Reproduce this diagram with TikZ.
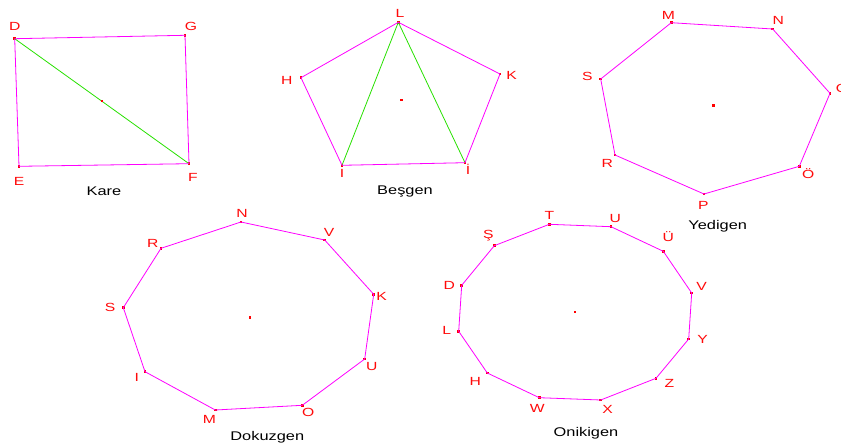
\documentclass[tikz,border=0pt]{standalone}
\usepackage{fontspec}
\setmainfont{Liberation Sans}
\definecolor{mag}{RGB}{255,0,255}
\definecolor{grn}{RGB}{40,225,0}
\definecolor{lblred}{RGB}{255,10,10}
\newcommand\wlbl[1]{\scalebox{1.33}[1]{#1}}
\newcommand\wcap[1]{\scalebox{1.3}[1]{#1}}
\tikzset{
  vx/.style={rectangle, fill=red, draw=none, minimum size=2.8pt, inner sep=0pt},
  poly/.style={draw=mag, line width=0.8pt, line join=round},
  diag/.style={draw=grn, line width=0.8pt},
  lbl/.style={text=lblred, font=\fontsize{11.8}{12}\selectfont, inner sep=0pt},
  captxt/.style={text=black, font=\fontsize{12.6}{13}\selectfont, inner sep=0pt},
}
\begin{document}
\begin{tikzpicture}[x=1pt,y=-1pt]
\fill[white] (0,0) rectangle (841,444);
\useasboundingbox (0,0) rectangle (841,444);

% ---------- Kare ----------
\node[vx] (kD) at (14.7,38.7) {};
\node[vx] (kG) at (185,35.3) {};
\node[vx] (kF) at (189,163.7) {};
\node[vx] (kE) at (19,166.3) {};
\draw[diag] (kD.center) -- (kF.center);
\draw[poly] (kD.center) -- (kG.center) -- (kF.center) -- (kE.center) -- cycle;
\node[vx] (kC) at (102,101) {};
\node[lbl] (lkD) at (14.7,26) {\wlbl{D}};
\node[lbl] (lkG) at (191,26) {\wlbl{G}};
\node[lbl] (lkE) at (19,181) {\wlbl{E}};
\node[lbl] (lkF) at (193,177) {\wlbl{F}};
\node[captxt] (ckare) at (104,191.7) {\wcap{Kare}};

% ---------- Beşgen ----------
\node[vx] (bL) at (398.3,22.3) {};
\node[vx] (bH) at (301,77.7) {};
\node[vx] (bK) at (500,74) {};
\node[vx] (bI) at (342,165.3) {};
\node[vx] (bIi) at (465,162.7) {};
\draw[diag] (bI.center) -- (bL.center) -- (bIi.center);
\draw[poly] (bL.center) -- (bK.center) -- (bIi.center) -- (bI.center) -- (bH.center) -- cycle;
\node[vx] (bC) at (401.7,100) {};
\node[lbl] (lbL) at (400,13.3) {\wlbl{L}};
\node[lbl] (lbH) at (286.7,80.7) {\wlbl{H}};
\node[lbl] (lbK) at (511.7,75) {\wlbl{K}};
\node[lbl] (lbI) at (342,173) {\wlbl{I}};
\node[lbl] (lbIi) at (468,169) {\wlbl{İ}};
\node[captxt] (cbes) at (405,191) {\wcap{Beşgen}};

% ---------- Yedigen ----------
\node[vx] (yM) at (671.3,22.7) {};
\node[vx] (yN) at (772.7,29) {};
\node[vx] (yO) at (830,93.3) {};
\node[vx] (yOo) at (799.3,166.3) {};
\node[vx] (yP) at (704,194) {};
\node[vx] (yR) at (615,155) {};
\node[vx] (yS) at (600.7,79) {};
\draw[poly] (yM.center) -- (yN.center) -- (yO.center) -- (yOo.center) -- (yP.center) -- (yR.center) -- (yS.center) -- cycle;
\node[vx] (yC) at (713.3,105.7) {};
\node[lbl] (lyM) at (668.3,15) {\wlbl{M}};
\node[lbl] (lyN) at (778.3,20.7) {\wlbl{N}};
\node[lbl] (lyO) at (842,88) {\wlbl{O}};
\node[lbl] (lyOo) at (808.3,174) {\wlbl{Ö}};
\node[lbl] (lyP) at (703.3,205) {\wlbl{P}};
\node[lbl] (lyR) at (607.3,163.3) {\wlbl{R}};
\node[lbl] (lyS) at (587.3,76) {\wlbl{S}};
\node[captxt] (cyedi) at (717.7,226) {\wcap{Yedigen}};

% ---------- Dokuzgen ----------
\node[vx] (dN) at (241,222) {};
\node[vx] (dV) at (324.7,240) {};
\node[vx] (dK) at (373.7,294.3) {};
\node[vx] (dU) at (364.7,359) {};
\node[vx] (dO) at (302.3,405.3) {};
\node[vx] (dM) at (215.3,410) {};
\node[vx] (dI) at (145,371.7) {};
\node[vx] (dS) at (123.3,307.7) {};
\node[vx] (dR) at (161,248.3) {};
\draw[poly] (dN.center) -- (dV.center) -- (dK.center) -- (dU.center) -- (dO.center) -- (dM.center) -- (dI.center) -- (dS.center) -- (dR.center) -- cycle;
\node[vx] (dC) at (250,317.3) {};
\node[lbl] (ldN) at (242,213.3) {\wlbl{N}};
\node[lbl] (ldV) at (329,232.7) {\wlbl{V}};
\node[lbl] (ldK) at (381.7,296.3) {\wlbl{K}};
\node[lbl] (ldU) at (371.7,366) {\wlbl{U}};
\node[lbl] (ldO) at (308.3,412.3) {\wlbl{O}};
\node[lbl] (ldM) at (209.3,419) {\wlbl{M}};
\node[lbl] (ldI) at (136.7,377.3) {\wlbl{I}};
\node[lbl] (ldS) at (110,307.3) {\wlbl{S}};
\node[lbl] (ldR) at (152.7,243.3) {\wlbl{R}};
\node[captxt] (cdok) at (267.3,437.3) {\wcap{Dokuzgen}};

% ---------- Onikigen ----------
\node[vx] (oT) at (549.3,224.3) {};
\node[vx] (oU) at (611,226.7) {};
\node[vx] (oUu) at (663.3,251.3) {};
\node[vx] (oV) at (691.7,293) {};
\node[vx] (oY) at (688.7,339) {};
\node[vx] (oZ) at (656,378.3) {};
\node[vx] (oX) at (600.7,400) {};
\node[vx] (oW) at (539.3,397.7) {};
\node[vx] (oH) at (487.3,373) {};
\node[vx] (oL) at (458.7,331.3) {};
\node[vx] (oD) at (461.7,285.3) {};
\node[vx] (oSs) at (494.3,245.7) {};
\draw[poly] (oT.center) -- (oU.center) -- (oUu.center) -- (oV.center) -- (oY.center) -- (oZ.center) -- (oX.center) -- (oW.center) -- (oH.center) -- (oL.center) -- (oD.center) -- (oSs.center) -- cycle;
\node[vx] (oC) at (575,312) {};
\node[lbl] (loT) at (549.3,215) {\wlbl{T}};
\node[lbl] (loU) at (615.3,218.3) {\wlbl{U}};
\node[lbl] (loUu) at (668.3,236.7) {\wlbl{Ü}};
\node[lbl] (loV) at (701.7,286.7) {\wlbl{V}};
\node[lbl] (loY) at (702.7,339.3) {\wlbl{Y}};
\node[lbl] (loZ) at (669.3,383.3) {\wlbl{Z}};
\node[lbl] (loX) at (607.7,409.3) {\wlbl{X}};
\node[lbl] (loW) at (537.3,408.3) {\wlbl{W}};
\node[lbl] (loH) at (475.3,381) {\wlbl{H}};
\node[lbl] (loL) at (446.7,330) {\wlbl{L}};
\node[lbl] (loD) at (449.3,285) {\wlbl{D}};
\node[lbl] (loSs) at (488.3,235.7) {\wlbl{Ş}};
\node[captxt] (coni) at (586,433.3) {\wcap{Onikigen}};
\end{tikzpicture}
\end{document}
